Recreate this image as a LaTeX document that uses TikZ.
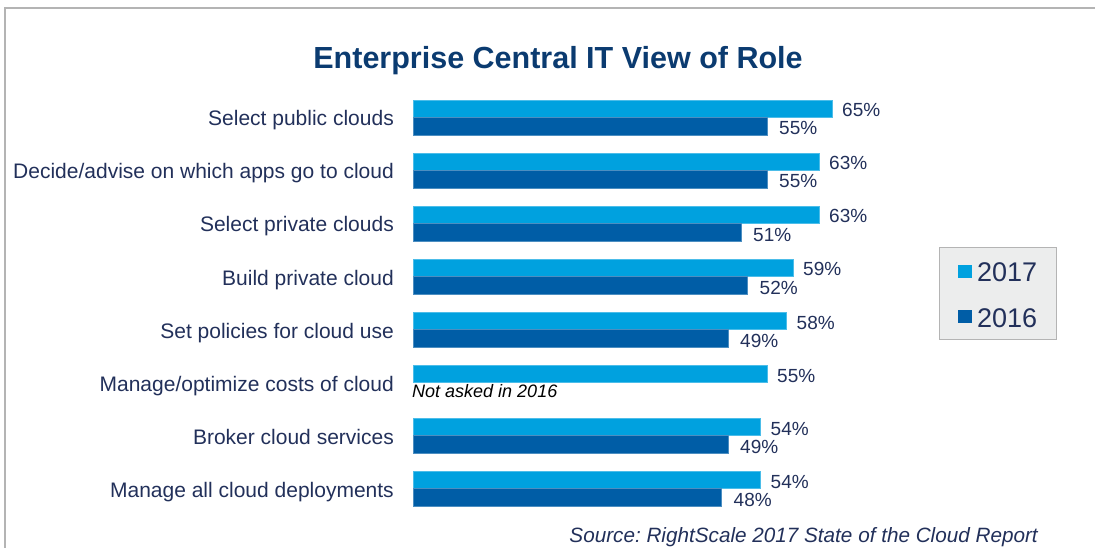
\documentclass[tikz,border=0pt]{standalone}
\usepackage{fontspec}
\setmainfont{Liberation Sans}
\frenchspacing
\definecolor{cA}{HTML}{00A1DF}
\definecolor{cB}{HTML}{005DA6}
\definecolor{txt}{HTML}{22305A}
\definecolor{ttl}{HTML}{0B3B70}
\definecolor{frame}{HTML}{B4B4B4}
\definecolor{legbg}{HTML}{ECEDED}
\tikzset{
  rowlab/.style={anchor=base east, inner sep=0pt, text=txt, font=\fontsize{21}{24}\selectfont},
  pct/.style={anchor=base west, inner sep=0pt, text=txt, font=\fontsize{19}{22}\selectfont},
  barA/.style={fill=cA, draw=cA!70!white, line width=0.5pt},
  barB/.style={fill=cB, draw=cB!70!white, line width=0.5pt},
  legtxt/.style={anchor=base west, inner sep=0pt, text=txt, font=\fontsize{27}{30}\selectfont},
}
% #1 index, #2 label, #3 value 2017, #4 value 2016
\newcommand\chartrow[4]{%
  \pgfmathsetmacro\rtop{100+53*(#1-1)}%
  \pgfmathsetmacro\xa{409.5+6.5*#3}%
  \node[rowlab] (lab#1) at (394,\rtop+26) {#2};
  \fill[barA] (413,\rtop) rectangle (\xa,\rtop+17.5);
  \node[pct] (pa#1) at (\xa+10,\rtop+17) {#3\%};
  \ifnum#4>0
    \pgfmathsetmacro\xb{409.5+6.5*#4}%
    \fill[barB] (413,\rtop+17.5) rectangle (\xb,\rtop+35);
    \node[pct] (pb#1) at (\xb+12,\rtop+35) {#4\%};
  \fi
}
\begin{document}
\begin{tikzpicture}[x=1pt,y=-1pt]
\useasboundingbox (0,0) rectangle (1095,548);
\draw[frame, line width=2pt] (5,548) -- (5,8) -- (1095,8);
\node[anchor=base, inner sep=0pt, text=ttl, font=\fontsize{30.5}{34}\bfseries\selectfont] (title) at (558,69) {Enterprise Central IT View of Role};
\chartrow{1}{Select public clouds}{65}{55}
\chartrow{2}{Decide/advise on which apps go to cloud}{63}{55}
\chartrow{3}{Select private clouds}{63}{51}
\chartrow{4}{Build private cloud}{59}{52}
\chartrow{5}{Set policies for cloud use}{58}{49}
\chartrow{6}{Manage/optimize costs of cloud}{55}{0}
\chartrow{7}{Broker cloud services}{54}{49}
\chartrow{8}{Manage all cloud deployments}{54}{48}
\node[anchor=base west, inner sep=0pt, text=black, font=\fontsize{18}{21}\itshape\selectfont] (na) at (412,397.5) {Not asked in 2016};
% legend
\draw[fill=legbg, draw=frame, line width=1pt] (939,248) rectangle (1056,339);
\fill[cA] (958,265) rectangle (972,278);
\node[legtxt] (l17) at (977,281.5) {2017};
\fill[cB] (958,310) rectangle (972,323);
\node[legtxt] (l16) at (977,327.5) {2016};
\node[anchor=base east, inner sep=0pt, text=txt, font=\fontsize{20.7}{24}\itshape\selectfont] (src) at (1038,542) {Source: RightScale 2017 State of the Cloud Report};
\end{tikzpicture}
\end{document}
